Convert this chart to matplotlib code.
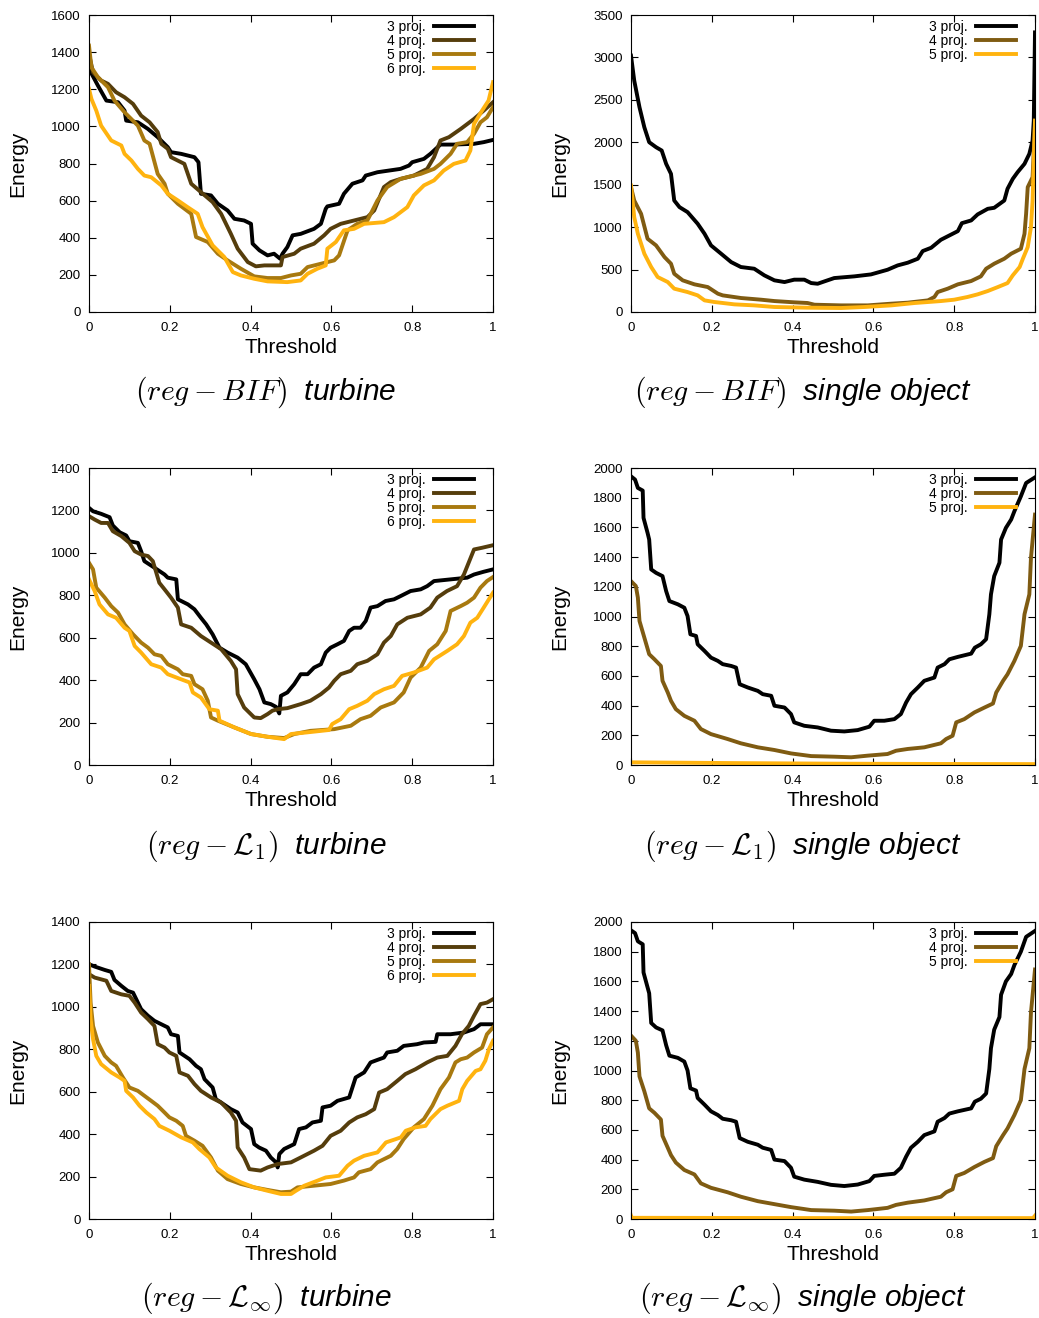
import matplotlib
matplotlib.use('Agg')
from matplotlib import pyplot as plt

plt.rcParams['font.family'] = ['Liberation Sans', 'DejaVu Sans']
plt.rcParams['mathtext.fontset'] = 'cm'

# colours of the curves (gnuplot-like)
c3 = '#000000'
c4_turb = '#553d0c'
c5_turb = '#a8790f'
c6 = '#ffb30f'
c4_single = '#7f5b12'

labels = ['3 proj.', '4 proj.', '5 proj.', '6 proj.']
x_ticks = [0, 0.2, 0.4, 0.6, 0.8, 1]
x_ticklabels = ['0', '0.2', '0.4', '0.6', '0.8', '1']

# ---------------- (reg - BIF) turbine ----------------
bt_x3 = [0, 0.022, 0.043, 0.072, 0.088, 0.092, 0.121, 0.146, 0.170, 0.195, 0.203, 0.228, 0.261, 0.271, 0.277,
         0.302, 0.319, 0.343, 0.360, 0.384, 0.401, 0.405, 0.422, 0.442, 0.458, 0.473, 0.479, 0.491, 0.504, 0.524,
         0.557, 0.574, 0.586, 0.590, 0.619, 0.631, 0.652, 0.677, 0.685, 0.714, 0.771, 0.792, 0.800, 0.829, 0.845,
         0.870, 0.903, 0.953, 0.977, 1.0]
bt_y3 = [1310, 1220, 1139, 1130, 1085, 1031, 1022, 986, 942, 888, 861, 852, 834, 807, 637,
         628, 583, 547, 502, 493, 475, 368, 332, 305, 314, 287, 314, 350, 413, 421,
         448, 475, 556, 569, 583, 637, 691, 709, 735, 753, 771, 789, 807, 825, 852,
         902, 902, 906, 915, 927]
bt_x4 = [0, 0.010, 0.030, 0.047, 0.067, 0.088, 0.109, 0.129, 0.150, 0.170, 0.179, 0.195, 0.203, 0.236, 0.253,
         0.277, 0.306, 0.327, 0.351, 0.368, 0.393, 0.413, 0.434, 0.475, 0.479, 0.508, 0.524, 0.557, 0.582, 0.598,
         0.623, 0.656, 0.689, 0.706, 0.730, 0.747, 0.771, 0.804, 0.837, 0.854, 0.870, 0.891, 0.920, 0.953, 0.977, 1.0]
bt_y4 = [1390, 1291, 1247, 1229, 1184, 1157, 1121, 1058, 1022, 969, 906, 879, 834, 798, 691,
         646, 592, 529, 422, 341, 269, 246, 251, 251, 296, 314, 341, 368, 413, 448,
         475, 493, 511, 547, 673, 700, 717, 735, 771, 834, 924, 942, 986, 1040, 1085, 1130]
bt_x5 = [0, 0.006, 0.022, 0.047, 0.063, 0.088, 0.121, 0.137, 0.150, 0.170, 0.187, 0.195, 0.220, 0.253, 0.265,
         0.294, 0.319, 0.343, 0.376, 0.409, 0.442, 0.475, 0.500, 0.524, 0.541, 0.574, 0.607, 0.619, 0.640, 0.664,
         0.689, 0.714, 0.738, 0.771, 0.821, 0.854, 0.870, 0.895, 0.911, 0.936, 0.953, 0.969, 0.985, 1.0]
bt_y5 = [1435, 1318, 1265, 1211, 1139, 1076, 1004, 924, 906, 744, 691, 637, 583, 529, 404,
         377, 314, 278, 233, 192, 183, 183, 197, 206, 242, 260, 278, 305, 440, 475,
         493, 601, 673, 717, 744, 771, 798, 852, 906, 915, 960, 1022, 1049, 1103]
bt_x6 = [0, 0.006, 0.018, 0.030, 0.055, 0.080, 0.088, 0.105, 0.121, 0.137, 0.154, 0.179, 0.195, 0.220, 0.244,
         0.269, 0.281, 0.306, 0.335, 0.356, 0.376, 0.409, 0.442, 0.491, 0.524, 0.541, 0.565, 0.586, 0.590, 0.611,
         0.631, 0.656, 0.681, 0.730, 0.755, 0.788, 0.804, 0.829, 0.854, 0.878, 0.903, 0.932, 0.944, 0.953, 0.973,
         0.989, 1.0]
bt_y6 = [1202, 1148, 1085, 1004, 924, 897, 852, 816, 771, 735, 726, 682, 637, 601, 565,
         529, 457, 359, 296, 215, 197, 179, 165, 161, 170, 206, 233, 251, 341, 377,
         440, 448, 475, 484, 511, 565, 628, 682, 709, 762, 798, 816, 870, 1013, 1085,
         1139, 1238]

# ---------------- (reg - BIF) single object ----------------
bs_x3 = [0, 0.008, 0.021, 0.033, 0.045, 0.062, 0.076, 0.087, 0.099, 0.107, 0.120, 0.140, 0.165, 0.182, 0.198,
         0.223, 0.248, 0.272, 0.305, 0.330, 0.355, 0.380, 0.404, 0.429, 0.446, 0.462, 0.479, 0.503, 0.553, 0.594,
         0.635, 0.660, 0.685, 0.710, 0.722, 0.743, 0.767, 0.788, 0.809, 0.819, 0.842, 0.858, 0.883, 0.899, 0.924,
         0.932, 0.945, 0.957, 0.974, 0.986, 0.994, 0.997, 1.0]
bs_y3 = [3021, 2727, 2413, 2177, 2001, 1942, 1903, 1746, 1628, 1314, 1236, 1177, 1040, 922, 785,
         687, 588, 530, 510, 432, 373, 353, 381, 381, 341, 333, 361, 400, 420, 443,
         498, 549, 581, 628, 718, 757, 851, 902, 953, 1047, 1079, 1150, 1216, 1228, 1314,
         1452, 1569, 1648, 1746, 1864, 2020, 2256, 3295]
bs_x4 = [0, 0.008, 0.025, 0.041, 0.062, 0.083, 0.099, 0.107, 0.128, 0.157, 0.190, 0.215, 0.227, 0.272, 0.322,
         0.355, 0.404, 0.437, 0.454, 0.520, 0.586, 0.644, 0.685, 0.735, 0.751, 0.759, 0.784, 0.809, 0.842, 0.866,
         0.879, 0.899, 0.924, 0.941, 0.965, 0.974, 0.978, 0.982, 0.994, 1.0]
bs_y4 = [1471, 1314, 1157, 863, 785, 647, 569, 451, 373, 326, 294, 216, 196, 165, 145,
         129, 114, 106, 86, 78, 78, 98, 110, 137, 177, 235, 275, 326, 365, 420,
         510, 569, 628, 687, 745, 922, 1157, 1471, 1589, 2216]
bs_x5 = [0, 0.008, 0.017, 0.033, 0.050, 0.066, 0.091, 0.107, 0.140, 0.165, 0.182, 0.206, 0.256, 0.305, 0.355,
         0.437, 0.520, 0.578, 0.644, 0.702, 0.767, 0.800, 0.833, 0.858, 0.883, 0.908, 0.932, 0.945, 0.962, 0.970,
         0.982, 0.990, 0.994, 1.0]
bs_y5 = [1491, 1118, 922, 687, 530, 412, 353, 275, 235, 196, 137, 118, 90, 78, 59,
         51, 47, 59, 78, 106, 129, 145, 177, 208, 247, 294, 341, 432, 530, 628,
         765, 1000, 1314, 2256]

# ---------------- (reg - L1) turbine ----------------
lt_x3 = [0, 0.010, 0.030, 0.051, 0.059, 0.076, 0.092, 0.100, 0.121, 0.129, 0.137, 0.162, 0.187, 0.195, 0.216,
         0.220, 0.245, 0.261, 0.277, 0.290, 0.306, 0.323, 0.343, 0.368, 0.388, 0.409, 0.422, 0.434, 0.450, 0.463,
         0.471, 0.475, 0.491, 0.508, 0.524, 0.541, 0.557, 0.574, 0.586, 0.598, 0.615, 0.631, 0.644, 0.656, 0.672,
         0.685, 0.697, 0.714, 0.734, 0.755, 0.771, 0.796, 0.821, 0.837, 0.854, 0.895, 0.936, 0.953, 0.977, 1.0]
lt_y3 = [1212, 1196, 1184, 1168, 1129, 1097, 1082, 1055, 1047, 1008, 961, 930, 898, 883, 875,
         781, 757, 734, 694, 663, 616, 553, 530, 506, 475, 404, 357, 295, 287, 274,
         243, 326, 342, 381, 428, 428, 459, 475, 530, 553, 569, 585, 632, 647, 647,
         679, 742, 749, 773, 781, 796, 820, 828, 843, 867, 875, 883, 898, 911, 922]
lt_x4 = [0, 0.014, 0.030, 0.047, 0.059, 0.080, 0.100, 0.113, 0.129, 0.146, 0.158, 0.174, 0.187, 0.203, 0.220,
         0.228, 0.253, 0.277, 0.302, 0.327, 0.351, 0.364, 0.368, 0.384, 0.409, 0.425, 0.442, 0.454, 0.467, 0.491,
         0.524, 0.548, 0.574, 0.594, 0.607, 0.623, 0.648, 0.664, 0.689, 0.714, 0.730, 0.747, 0.763, 0.788, 0.821,
         0.845, 0.862, 0.886, 0.911, 0.928, 0.953, 0.973, 1.0]
lt_y4 = [1173, 1157, 1141, 1141, 1102, 1079, 1047, 1008, 992, 985, 961, 859, 828, 789, 742,
         663, 647, 608, 577, 546, 491, 451, 334, 271, 224, 221, 240, 256, 263, 268,
         287, 303, 334, 365, 397, 428, 444, 475, 491, 522, 577, 608, 663, 694, 710,
         742, 789, 820, 843, 898, 1016, 1024, 1036]
lt_x5 = [0, 0.010, 0.018, 0.039, 0.055, 0.072, 0.088, 0.109, 0.129, 0.146, 0.162, 0.179, 0.195, 0.220, 0.232,
         0.253, 0.261, 0.281, 0.294, 0.302, 0.319, 0.360, 0.401, 0.442, 0.483, 0.508, 0.548, 0.607, 0.648, 0.672,
         0.697, 0.722, 0.755, 0.779, 0.796, 0.821, 0.842, 0.862, 0.883, 0.895, 0.920, 0.936, 0.953, 0.969, 0.985, 1.0]
lt_y5 = [953, 922, 836, 789, 749, 718, 663, 616, 577, 553, 522, 514, 475, 451, 428,
         420, 381, 357, 303, 224, 209, 177, 146, 133, 127, 146, 161, 169, 185, 216,
         232, 271, 295, 342, 412, 459, 538, 569, 632, 726, 749, 765, 789, 836, 867, 886]
lt_x6 = [0, 0.014, 0.026, 0.047, 0.067, 0.088, 0.100, 0.113, 0.129, 0.154, 0.179, 0.195, 0.228, 0.249, 0.257,
         0.277, 0.298, 0.319, 0.323, 0.360, 0.401, 0.442, 0.483, 0.500, 0.541, 0.594, 0.602, 0.623, 0.644, 0.664,
         0.689, 0.706, 0.730, 0.755, 0.775, 0.804, 0.837, 0.854, 0.887, 0.911, 0.928, 0.944, 0.961, 0.977, 1.0]
lt_y6 = [875, 820, 757, 710, 694, 647, 632, 561, 530, 475, 459, 428, 404, 389, 342,
         318, 263, 256, 209, 177, 146, 133, 122, 146, 154, 165, 193, 216, 263, 279,
         303, 334, 357, 373, 420, 436, 459, 498, 538, 569, 608, 671, 694, 742, 812]

# ---------------- (reg - L1) single object ----------------
ls_x3 = [0, 0.010, 0.017, 0.029, 0.031, 0.041, 0.045, 0.050, 0.062, 0.078, 0.087, 0.095, 0.116, 0.132, 0.140,
         0.147, 0.161, 0.165, 0.182, 0.198, 0.215, 0.227, 0.248, 0.260, 0.269, 0.289, 0.314, 0.326, 0.347, 0.355,
         0.380, 0.396, 0.404, 0.429, 0.462, 0.495, 0.528, 0.561, 0.590, 0.602, 0.627, 0.652, 0.668, 0.681, 0.693,
         0.710, 0.726, 0.751, 0.759, 0.776, 0.788, 0.809, 0.842, 0.851, 0.866, 0.879, 0.887, 0.891, 0.899, 0.912,
         0.916, 0.928, 0.941, 0.949, 0.965, 0.978, 1.0]
ls_y3 = [1944, 1922, 1866, 1848, 1664, 1563, 1518, 1317, 1294, 1272, 1171, 1104, 1082, 1059, 1003,
         880, 869, 813, 768, 723, 701, 679, 667, 656, 544, 522, 499, 477, 466, 399,
         387, 343, 287, 264, 253, 231, 226, 235, 258, 298, 298, 309, 343, 421, 477,
         522, 567, 589, 656, 679, 712, 728, 750, 790, 813, 847, 1015, 1149, 1272, 1362,
         1518, 1597, 1653, 1709, 1809, 1899, 1937]
ls_x4 = [0, 0.012, 0.017, 0.021, 0.033, 0.045, 0.058, 0.074, 0.078, 0.091, 0.099, 0.111, 0.132, 0.157, 0.173,
         0.198, 0.239, 0.272, 0.314, 0.355, 0.396, 0.446, 0.503, 0.545, 0.586, 0.635, 0.656, 0.685, 0.726, 0.767,
         0.780, 0.796, 0.805, 0.825, 0.850, 0.875, 0.896, 0.904, 0.921, 0.932, 0.949, 0.965, 0.974, 0.986, 0.990, 1.0]
ls_y4 = [1238, 1205, 1127, 970, 858, 746, 712, 667, 567, 488, 432, 376, 331, 298, 242,
         208, 175, 146, 119, 101, 78, 60, 56, 52, 63, 74, 96, 108, 119, 146,
         175, 197, 287, 309, 354, 387, 414, 488, 567, 611, 701, 802, 1015, 1149, 1395, 1686]
ls_x5 = [0, 0.25, 0.5, 0.75, 1.0]
ls_y5 = [18, 13, 9, 7, 6]

# ---------------- (reg - Linf) turbine ----------------
it_x3 = [0, 0.014, 0.039, 0.055, 0.063, 0.080, 0.096, 0.109, 0.117, 0.129, 0.146, 0.162, 0.179, 0.195, 0.203,
         0.220, 0.224, 0.249, 0.265, 0.277, 0.286, 0.306, 0.314, 0.327, 0.351, 0.368, 0.380, 0.401, 0.409, 0.421,
         0.438, 0.450, 0.463, 0.467, 0.471, 0.483, 0.508, 0.520, 0.537, 0.553, 0.574, 0.578, 0.598, 0.615, 0.644,
         0.660, 0.681, 0.697, 0.714, 0.730, 0.738, 0.763, 0.779, 0.812, 0.829, 0.858, 0.862, 0.895, 0.928, 0.953,
         0.969, 1.0]
it_y3 = [1201, 1190, 1174, 1165, 1127, 1099, 1075, 1067, 1036, 989, 958, 934, 918, 903, 871,
         863, 785, 753, 722, 706, 659, 620, 565, 549, 518, 502, 455, 424, 353, 337,
         322, 290, 267, 243, 306, 330, 353, 424, 432, 455, 463, 526, 534, 557, 573,
         667, 691, 738, 750, 761, 785, 793, 816, 824, 832, 835, 871, 871, 879, 895,
         918, 918]
it_x4 = [0, 0.014, 0.043, 0.055, 0.080, 0.100, 0.113, 0.129, 0.146, 0.162, 0.170, 0.187, 0.199, 0.216, 0.224,
         0.245, 0.261, 0.277, 0.302, 0.327, 0.351, 0.364, 0.368, 0.384, 0.397, 0.425, 0.442, 0.467, 0.500, 0.524,
         0.557, 0.578, 0.598, 0.623, 0.644, 0.664, 0.685, 0.706, 0.718, 0.738, 0.763, 0.783, 0.808, 0.837, 0.862,
         0.887, 0.907, 0.923, 0.940, 0.953, 0.969, 0.985, 1.0]
it_y4 = [1154, 1138, 1123, 1075, 1059, 1052, 1020, 973, 942, 910, 824, 808, 785, 769, 691,
         675, 636, 604, 573, 549, 502, 463, 337, 290, 235, 228, 243, 259, 267, 290,
         322, 345, 392, 416, 455, 479, 494, 518, 596, 612, 651, 683, 706, 738, 761,
         769, 816, 871, 910, 958, 1013, 1020, 1036]
it_x5 = [0, 0.004, 0.010, 0.022, 0.039, 0.055, 0.067, 0.084, 0.100, 0.121, 0.137, 0.154, 0.170, 0.187, 0.199,
         0.216, 0.232, 0.240, 0.261, 0.281, 0.302, 0.319, 0.343, 0.376, 0.409, 0.442, 0.475, 0.500, 0.516, 0.557,
         0.598, 0.631, 0.656, 0.668, 0.697, 0.714, 0.747, 0.763, 0.779, 0.804, 0.829, 0.850, 0.870, 0.891, 0.907,
         0.920, 0.936, 0.953, 0.973, 0.985, 1.0]
it_y5 = [1201, 1020, 910, 832, 769, 738, 722, 667, 620, 604, 581, 557, 534, 502, 479,
         463, 439, 392, 369, 345, 290, 228, 188, 165, 149, 137, 126, 129, 149, 157,
         165, 181, 196, 220, 235, 267, 298, 330, 377, 432, 471, 534, 612, 667, 738,
         753, 761, 785, 808, 871, 903]
it_x6 = [0, 0.004, 0.010, 0.018, 0.030, 0.055, 0.076, 0.088, 0.092, 0.109, 0.125, 0.142, 0.162, 0.174, 0.199,
         0.228, 0.257, 0.273, 0.298, 0.314, 0.343, 0.376, 0.409, 0.442, 0.475, 0.500, 0.512, 0.533, 0.566, 0.586,
         0.619, 0.640, 0.656, 0.681, 0.714, 0.735, 0.760, 0.772, 0.784, 0.808, 0.833, 0.845, 0.870, 0.887, 0.916,
         0.924, 0.936, 0.957, 0.969, 0.981, 0.990, 1.0]
it_y6 = [1099, 942, 848, 769, 730, 691, 667, 651, 604, 573, 534, 502, 471, 439, 416,
         385, 361, 330, 290, 243, 204, 173, 149, 133, 118, 118, 133, 157, 181, 196,
         204, 251, 275, 298, 314, 361, 377, 385, 416, 432, 439, 471, 518, 534, 557,
         612, 651, 698, 706, 746, 801, 840]

# ---------------- (reg - Linf) single object ----------------
is_x3 = [0, 0.010, 0.017, 0.029, 0.031, 0.041, 0.045, 0.050, 0.062, 0.078, 0.087, 0.095, 0.116, 0.132, 0.140,
         0.147, 0.161, 0.165, 0.182, 0.198, 0.215, 0.227, 0.248, 0.260, 0.269, 0.289, 0.314, 0.326, 0.347, 0.355,
         0.380, 0.396, 0.404, 0.429, 0.462, 0.495, 0.528, 0.561, 0.590, 0.602, 0.627, 0.652, 0.668, 0.681, 0.693,
         0.710, 0.726, 0.751, 0.759, 0.776, 0.788, 0.809, 0.842, 0.851, 0.866, 0.879, 0.887, 0.891, 0.899, 0.912,
         0.916, 0.928, 0.941, 0.949, 0.965, 0.978, 1.0]
is_y3 = [1944, 1925, 1870, 1850, 1660, 1560, 1520, 1320, 1290, 1270, 1170, 1100, 1085, 1060, 1000,
         880, 865, 815, 770, 725, 700, 675, 665, 655, 545, 520, 500, 480, 465, 400,
         390, 345, 285, 265, 250, 230, 222, 232, 255, 290, 298, 305, 345, 420, 480,
         520, 565, 590, 655, 680, 710, 725, 745, 790, 810, 845, 1010, 1150, 1275, 1360,
         1510, 1600, 1650, 1710, 1800, 1900, 1940]
is_x4 = [0, 0.012, 0.017, 0.021, 0.033, 0.045, 0.058, 0.074, 0.078, 0.091, 0.099, 0.111, 0.132, 0.157, 0.173,
         0.198, 0.239, 0.272, 0.314, 0.355, 0.396, 0.446, 0.503, 0.545, 0.586, 0.635, 0.656, 0.685, 0.726, 0.767,
         0.780, 0.796, 0.805, 0.825, 0.850, 0.875, 0.896, 0.904, 0.921, 0.932, 0.949, 0.965, 0.974, 0.986, 0.990, 1.0]
is_y4 = [1235, 1200, 1120, 960, 860, 745, 715, 670, 560, 480, 430, 380, 330, 300, 240,
         210, 180, 150, 120, 100, 80, 60, 56, 50, 60, 75, 95, 110, 125, 150,
         180, 200, 290, 310, 350, 385, 410, 490, 565, 610, 700, 800, 1010, 1150, 1390, 1680]
is_x5 = [0, 0.002, 0.25, 0.5, 0.75, 0.995, 1.0]
is_y5 = [22, 8, 7, 6, 6, 6, 22]

# axes boxes in figure fractions [left, bottom, width, height]
W, H = 1039, 1318
left_col = 89 / W
right_col = 631 / W
ax_w = 404 / W
row_tops = [15, 468, 922]
ax_h = 297 / H

panels = [
    (left_col, row_tops[0], 1600, 200,
     [(bt_x3, bt_y3, c3), (bt_x4, bt_y4, c4_turb), (bt_x5, bt_y5, c5_turb), (bt_x6, bt_y6, c6)],
     r'$(reg-BIF)\;$ turbine', 266, 400),
    (right_col, row_tops[0], 3500, 500,
     [(bs_x3, bs_y3, c3), (bs_x4, bs_y4, c4_single), (bs_x5, bs_y5, c6)],
     r'$(reg-BIF)\;$ single object', 803, 400),
    (left_col, row_tops[1], 1400, 200,
     [(lt_x3, lt_y3, c3), (lt_x4, lt_y4, c4_turb), (lt_x5, lt_y5, c5_turb), (lt_x6, lt_y6, c6)],
     r'$(reg-\mathcal{L}_1)\;$ turbine', 266, 854),
    (right_col, row_tops[1], 2000, 200,
     [(ls_x3, ls_y3, c3), (ls_x4, ls_y4, c4_single), (ls_x5, ls_y5, c6)],
     r'$(reg-\mathcal{L}_1)\;$ single object', 803, 854),
    (left_col, row_tops[2], 1400, 200,
     [(it_x3, it_y3, c3), (it_x4, it_y4, c4_turb), (it_x5, it_y5, c5_turb), (it_x6, it_y6, c6)],
     r'$(reg-\mathcal{L}_\infty)\;$ turbine', 266, 1306),
    (right_col, row_tops[2], 2000, 200,
     [(is_x3, is_y3, c3), (is_x4, is_y4, c4_single), (is_x5, is_y5, c6)],
     r'$(reg-\mathcal{L}_\infty)\;$ single object', 803, 1306),
]

fig = plt.figure(figsize=(W / 100, H / 100), dpi=100)

for (x0, top, ymax, ystep, series, caption, cx, cy) in panels:
    ax = fig.add_axes([x0, 1 - (top + 297) / H, ax_w, ax_h])
    for i, (xs, ys, col) in enumerate(series):
        ax.plot(xs, ys, color=col, lw=2.8, label=labels[i])
    ax.set_xlim(0, 1)
    ax.set_ylim(0, ymax)
    ax.set_xticks(x_ticks)
    ax.set_xticklabels(x_ticklabels)
    ax.set_yticks(range(0, ymax + 1, ystep))
    ax.tick_params(direction='in', top=True, right=True, length=5, width=0.8,
                   labelsize=9.5, pad=6)
    ax.tick_params(axis='x', pad=7)
    for s in ax.spines.values():
        s.set_linewidth(0.8)
    ax.set_xlabel('Threshold', fontsize=15, labelpad=3)
    ax.set_ylabel('Energy', fontsize=15, labelpad=17)
    ax.legend(loc='upper right', bbox_to_anchor=(1 - 12 / 404, 1 + 2 / 297),
              markerfirst=False, frameon=False, fontsize=10,
              handlelength=2.9, handletextpad=0.6, labelspacing=0.0,
              borderaxespad=0.3, borderpad=0.2)
    fig.text(cx / W, 1 - cy / H, caption, fontsize=21.5, ha='center', va='baseline',
             fontstyle='italic', family=['Liberation Sans', 'DejaVu Sans'])

fig.savefig('out.png', dpi=100)
